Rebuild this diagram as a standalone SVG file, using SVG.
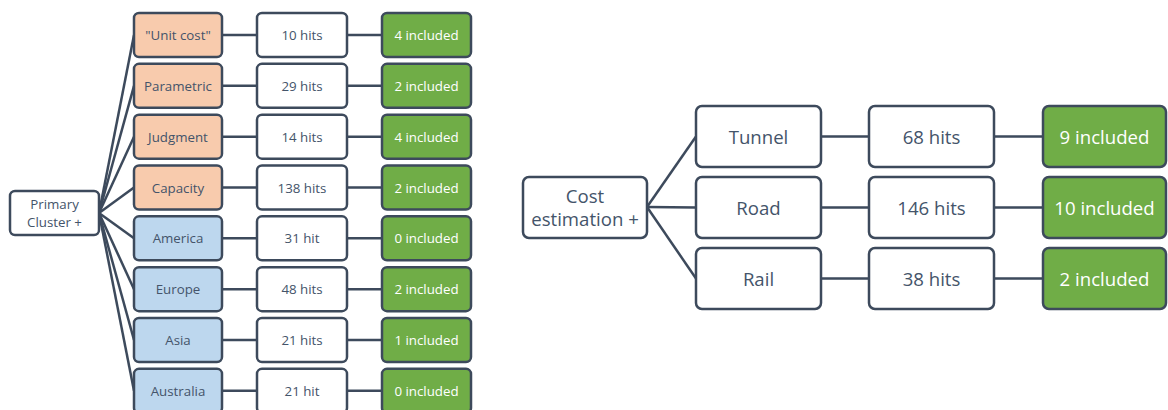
<svg xmlns="http://www.w3.org/2000/svg" width="1168" height="410" viewBox="0 0 1168 410">
  <style>
    .box { stroke: #3D4A5C; stroke-width: 2.5; }
    .plain { fill: #FFFFFF; }
    .method { fill: #F8CBAD; }
    .region { fill: #BDD7EE; }
    .kept { fill: #70AD47; }
    .t { font-family: "Open Sans", "Liberation Sans", sans-serif; fill: #44546A; text-anchor: middle; dominant-baseline: central; }
    .s { font-size: 13.3px; }
    .l { font-size: 18.6px; }
    .w { fill: #FFFFFF; }
    .conn { stroke: #3D4A5C; stroke-width: 2.5; fill: none; }
  </style>

  <!-- connectors -->
  <g id="connectors" class="conn">
    <!-- left tree: root fan-out -->
    <line x1="99" y1="213" x2="134" y2="35"/>
    <line x1="99" y1="213" x2="134" y2="85.8"/>
    <line x1="99" y1="213" x2="134" y2="136.7"/>
    <line x1="99" y1="213" x2="134" y2="187.5"/>
    <line x1="99" y1="213" x2="134" y2="238.3"/>
    <line x1="99" y1="213" x2="134" y2="289.2"/>
    <line x1="99" y1="213" x2="134" y2="340"/>
    <line x1="99" y1="213" x2="134" y2="390.8"/>
    <!-- left tree: row links -->
    <path d="M222 35H257M347 35H382"/>
    <path d="M222 85.8H257M347 85.8H382"/>
    <path d="M222 136.7H257M347 136.7H382"/>
    <path d="M222 187.5H257M347 187.5H382"/>
    <path d="M222 238.3H257M347 238.3H382"/>
    <path d="M222 289.2H257M347 289.2H382"/>
    <path d="M222 340H257M347 340H382"/>
    <path d="M222 390.8H257M347 390.8H382"/>
    <!-- right tree -->
    <line x1="647" y1="207" x2="696" y2="136.5"/>
    <line x1="647" y1="207" x2="696" y2="207.5"/>
    <line x1="647" y1="207" x2="696" y2="278.5"/>
    <path d="M821 136.5H869M994 136.5H1043"/>
    <path d="M821 207.5H869M994 207.5H1043"/>
    <path d="M821 278.5H869M994 278.5H1043"/>
  </g>

  <!-- left tree -->
  <g id="primary-cluster">
    <rect class="box plain" x="10" y="191" width="89" height="44" rx="5"/>
    <text class="t s" x="54.5" y="204">Primary</text>
    <text class="t s" x="54.5" y="222">Cluster +</text>
  </g>

  <g id="unit-cost"><rect class="box method" x="134" y="13" width="88" height="44" rx="5"/><text class="t s" x="178" y="35">"Unit cost"</text></g>
  <g id="parametric"><rect class="box method" x="134" y="63.8" width="88" height="44" rx="5"/><text class="t s" x="178" y="85.8">Parametric</text></g>
  <g id="judgment"><rect class="box method" x="134" y="114.7" width="88" height="44" rx="5"/><text class="t s" x="178" y="136.7">Judgment</text></g>
  <g id="capacity"><rect class="box method" x="134" y="165.5" width="88" height="44" rx="5"/><text class="t s" x="178" y="187.5">Capacity</text></g>
  <g id="america"><rect class="box region" x="134" y="216.3" width="88" height="44" rx="5"/><text class="t s" x="178" y="238.3">America</text></g>
  <g id="europe"><rect class="box region" x="134" y="267.2" width="88" height="44" rx="5"/><text class="t s" x="178" y="289.2">Europe</text></g>
  <g id="asia"><rect class="box region" x="134" y="318" width="88" height="44" rx="5"/><text class="t s" x="178" y="340">Asia</text></g>
  <g id="australia"><rect class="box region" x="134" y="368.8" width="88" height="44" rx="5"/><text class="t s" x="178" y="390.8">Australia</text></g>

  <g id="hits-unit-cost"><rect class="box plain" x="257" y="13" width="90" height="44" rx="5"/><text class="t s" x="302" y="35">10 hits</text></g>
  <g id="hits-parametric"><rect class="box plain" x="257" y="63.8" width="90" height="44" rx="5"/><text class="t s" x="302" y="85.8">29 hits</text></g>
  <g id="hits-judgment"><rect class="box plain" x="257" y="114.7" width="90" height="44" rx="5"/><text class="t s" x="302" y="136.7">14 hits</text></g>
  <g id="hits-capacity"><rect class="box plain" x="257" y="165.5" width="90" height="44" rx="5"/><text class="t s" x="302" y="187.5">138 hits</text></g>
  <g id="hits-america"><rect class="box plain" x="257" y="216.3" width="90" height="44" rx="5"/><text class="t s" x="302" y="238.3">31 hit</text></g>
  <g id="hits-europe"><rect class="box plain" x="257" y="267.2" width="90" height="44" rx="5"/><text class="t s" x="302" y="289.2">48 hits</text></g>
  <g id="hits-asia"><rect class="box plain" x="257" y="318" width="90" height="44" rx="5"/><text class="t s" x="302" y="340">21 hits</text></g>
  <g id="hits-australia"><rect class="box plain" x="257" y="368.8" width="90" height="44" rx="5"/><text class="t s" x="302" y="390.8">21 hit</text></g>

  <g id="inc-unit-cost"><rect class="box kept" x="382" y="13" width="89" height="44" rx="5"/><text class="t s w" x="426.5" y="35">4 included</text></g>
  <g id="inc-parametric"><rect class="box kept" x="382" y="63.8" width="89" height="44" rx="5"/><text class="t s w" x="426.5" y="85.8">2 included</text></g>
  <g id="inc-judgment"><rect class="box kept" x="382" y="114.7" width="89" height="44" rx="5"/><text class="t s w" x="426.5" y="136.7">4 included</text></g>
  <g id="inc-capacity"><rect class="box kept" x="382" y="165.5" width="89" height="44" rx="5"/><text class="t s w" x="426.5" y="187.5">2 included</text></g>
  <g id="inc-america"><rect class="box kept" x="382" y="216.3" width="89" height="44" rx="5"/><text class="t s w" x="426.5" y="238.3">0 included</text></g>
  <g id="inc-europe"><rect class="box kept" x="382" y="267.2" width="89" height="44" rx="5"/><text class="t s w" x="426.5" y="289.2">2 included</text></g>
  <g id="inc-asia"><rect class="box kept" x="382" y="318" width="89" height="44" rx="5"/><text class="t s w" x="426.5" y="340">1 included</text></g>
  <g id="inc-australia"><rect class="box kept" x="382" y="368.8" width="89" height="44" rx="5"/><text class="t s w" x="426.5" y="390.8">0 included</text></g>

  <!-- right tree -->
  <g id="cost-estimation">
    <rect class="box plain" x="523" y="177" width="124" height="61" rx="6"/>
    <text class="t l" x="585" y="195.5">Cost</text>
    <text class="t l" x="585" y="218.5">estimation +</text>
  </g>
  <g id="tunnel"><rect class="box plain" x="696" y="106" width="125" height="61" rx="6"/><text class="t l" x="758.5" y="136.5">Tunnel</text></g>
  <g id="road"><rect class="box plain" x="696" y="177" width="125" height="61" rx="6"/><text class="t l" x="758.5" y="207.5">Road</text></g>
  <g id="rail"><rect class="box plain" x="696" y="248" width="125" height="61" rx="6"/><text class="t l" x="758.5" y="278.5">Rail</text></g>

  <g id="hits-tunnel"><rect class="box plain" x="869" y="106" width="125" height="61" rx="6"/><text class="t l" x="931.5" y="136.5">68 hits</text></g>
  <g id="hits-road"><rect class="box plain" x="869" y="177" width="125" height="61" rx="6"/><text class="t l" x="931.5" y="207.5">146 hits</text></g>
  <g id="hits-rail"><rect class="box plain" x="869" y="248" width="125" height="61" rx="6"/><text class="t l" x="931.5" y="278.5">38 hits</text></g>

  <g id="inc-tunnel"><rect class="box kept" x="1043" y="106" width="123" height="61" rx="6"/><text class="t l w" x="1104.5" y="136.5">9 included</text></g>
  <g id="inc-road"><rect class="box kept" x="1043" y="177" width="123" height="61" rx="6"/><text class="t l w" x="1104.5" y="207.5">10 included</text></g>
  <g id="inc-rail"><rect class="box kept" x="1043" y="248" width="123" height="61" rx="6"/><text class="t l w" x="1104.5" y="278.5">2 included</text></g>
</svg>
